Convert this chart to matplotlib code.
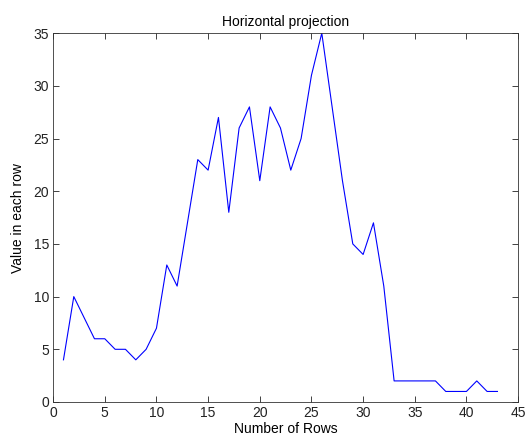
import matplotlib
matplotlib.use("Agg")
import matplotlib.pyplot as plt

# row index and value
rows = list(range(1, 44))
values = [4, 10, 8, 6, 6, 5, 5, 4, 5, 7, 13, 11, 17, 23, 22, 27, 18, 26, 28, 21,
          28, 26, 22, 25, 31, 35, 28, 21, 15, 14, 17, 11, 2, 2, 2, 2, 2, 1, 1, 1,
          2, 1, 1]

plt.rcParams["font.family"] = ["Liberation Sans", "DejaVu Sans"]
plt.rcParams["font.size"] = 10

fig = plt.figure(figsize=(5.26, 4.36), dpi=100)
ax = fig.add_axes([0.101, 0.078, 0.884, 0.846])
ax.plot(rows, values, "-", color="blue", linewidth=0.8)
ax.set_xlim(0, 45)
ax.set_ylim(0, 35)
ax.set_xticks(range(0, 46, 5))
ax.set_yticks(range(0, 36, 5))
ax.tick_params(direction="in", top=True, right=True, length=4, width=0.6,
               labelsize=10, colors="#222222", pad=3)
for sp in ax.spines.values():
    sp.set_linewidth(0.6)
    sp.set_color("#333333")
ax.set_title("Horizontal projection", fontsize=10, pad=5)
ax.set_xlabel("Number of Rows", fontsize=10, labelpad=1)
ax.set_ylabel("Value in each row", fontsize=10, labelpad=6)
fig.savefig("out.png", dpi=100)
